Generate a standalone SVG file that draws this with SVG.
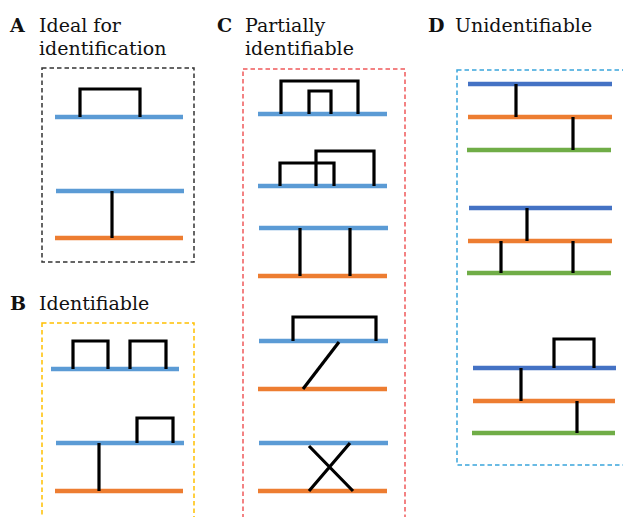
<svg xmlns="http://www.w3.org/2000/svg" width="623" height="517" viewBox="0 0 623 517">
<style>
.t{font-family:"DejaVu Serif","Liberation Serif",serif;font-size:19px;fill:#111}
.b{font-weight:bold;font-size:19px}
.box{fill:none;stroke-width:1.5;stroke-dasharray:4.5 3}
.lb{stroke:#5b9bd5;stroke-width:4.5}
.ld{stroke:#4472c4;stroke-width:4.5}
.lo{stroke:#ed7d31;stroke-width:4.5}
.lg{stroke:#70ad47;stroke-width:4.5}
.k{fill:none;stroke:#000;stroke-width:3.2;stroke-linejoin:miter;stroke-linecap:butt}
</style>
<rect width="623" height="517" fill="#fff"/>
<g id="panelA">
<text class="t b" x="10" y="32">A</text>
<text class="t" x="39" y="32">Ideal for</text>
<text class="t" x="39" y="55">identification</text>
<rect class="box" x="42" y="68" width="152" height="194" stroke="#333"/>
<line class="lb" x1="55" y1="117" x2="183" y2="117"/>
<line class="lb" x1="56" y1="191" x2="184" y2="191"/>
<line class="lo" x1="55" y1="238" x2="183" y2="238"/>
</g>
<g id="panelB">
<text class="t b" x="10" y="310">B</text>
<text class="t" x="39" y="310">Identifiable</text>
<rect class="box" x="42" y="323" width="152" height="210" stroke="#ffc000"/>
<line class="lb" x1="51" y1="369" x2="179" y2="369"/>
<line class="lb" x1="56" y1="443" x2="184" y2="443"/>
<line class="lo" x1="55" y1="491" x2="183" y2="491"/>
</g>
<g id="panelC">
<text class="t b" x="217" y="32">C</text>
<text class="t" x="245" y="32">Partially</text>
<text class="t" x="245" y="55">identifiable</text>
<rect class="box" x="243" y="69" width="162" height="464" stroke="#f0595b"/>
<line class="lb" x1="258" y1="114" x2="387" y2="114"/>
<line class="lb" x1="258" y1="186" x2="387" y2="186"/>
<line class="lb" x1="259" y1="228" x2="388" y2="228"/>
<line class="lo" x1="258" y1="276" x2="387" y2="276"/>
<line class="lb" x1="259" y1="341" x2="388" y2="341"/>
<line class="lo" x1="258" y1="389" x2="387" y2="389"/>
<line class="lb" x1="259" y1="443" x2="388" y2="443"/>
<line class="lo" x1="258" y1="491" x2="387" y2="491"/>
</g>
<g id="panelD">
<text class="t b" x="428" y="32">D</text>
<text class="t" x="455" y="32">Unidentifiable</text>
<rect class="box" x="457" y="70" width="180" height="395" stroke="#3aa5dc"/>
<line class="ld" x1="468" y1="84" x2="612" y2="84"/>
<line class="lo" x1="468" y1="117" x2="612" y2="117"/>
<line class="lg" x1="467" y1="150" x2="611" y2="150"/>
<line class="ld" x1="469" y1="208" x2="612" y2="208"/>
<line class="lo" x1="468" y1="241" x2="612" y2="241"/>
<line class="lg" x1="467" y1="273" x2="611" y2="273"/>
<line class="ld" x1="473" y1="368" x2="616" y2="368"/>
<line class="lo" x1="473" y1="401" x2="615" y2="401"/>
<line class="lg" x1="472" y1="433" x2="615" y2="433"/>
</g>
<g id="connectors">
<path class="k" d="M80 117V89H140V117"/>
<path class="k" d="M112 191V238"/>
<path class="k" d="M73 369V341H108V369"/>
<path class="k" d="M130 369V341H166V369"/>
<path class="k" d="M137 443V418H173V443"/>
<path class="k" d="M99 443V491"/>
<path class="k" d="M281 114V81H358V114"/>
<path class="k" d="M309 114V91H331V114"/>
<path class="k" d="M280 186V163H334V186"/>
<path class="k" d="M316 186V151H374V186"/>
<path class="k" d="M300 228V276M350 228V276"/>
<path class="k" d="M293 341V317H376V341"/>
<path class="k" d="M339 342L303 389"/>
<path class="k" d="M309 446L353 491M350 443L309 491"/>
<path class="k" d="M516 84V117M573 117V150"/>
<path class="k" d="M527 208V241M501 241V273M573 241V273"/>
<path class="k" d="M554 368V339H594V368"/>
<path class="k" d="M521 368V401M577 401V433"/>
</g>
</svg>
